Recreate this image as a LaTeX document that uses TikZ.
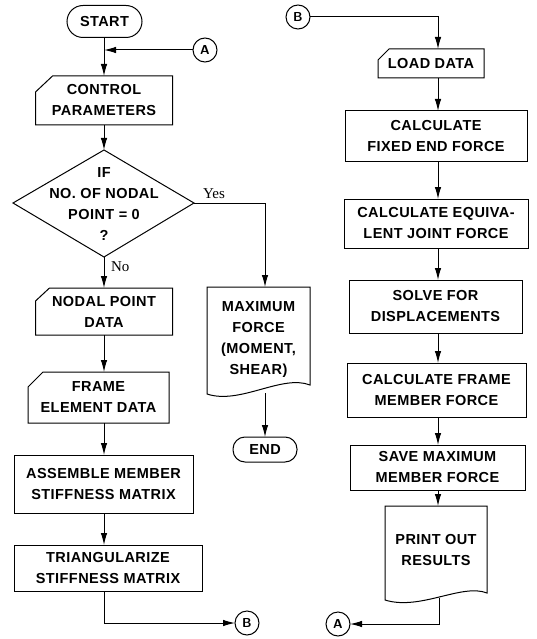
\documentclass[tikz,border=0pt]{standalone}
\usepackage{fontspec}
\setmainfont{Liberation Sans}
\newfontfamily\labfont[LetterSpace=3,BoldFont={Liberation Sans Bold}]{Liberation Sans}
\newfontfamily\serifl{Liberation Serif}
\usetikzlibrary{arrows.meta,calc}
\begin{document}
\begin{tikzpicture}[x=1pt,y=-1pt,
  every node/.style={font=\labfont\bfseries\fontsize{14.5}{21}\selectfont, align=center, inner sep=0pt, outer sep=0pt},
  ln/.style={line width=1pt},
  arr/.style={ln, -{Latex[length=12pt,width=6.5pt]}},
  procbox/.style={draw, line width=1pt, rectangle},
  plain/.style={rectangle},
  term/.style={draw, line width=1pt, rectangle, rounded corners=#1},
  conn/.style={draw, line width=1pt, circle, minimum size=24pt, font=\sffamily\fontsize{13}{13}\selectfont\bfseries},
  yn/.style={font=\serifl\fontsize{15}{15}\selectfont}
]
\useasboundingbox (0,0) rectangle (536,639);
\coordinate (colL) at (104,0);
\coordinate (colR) at (438,0);

% ---------- left column ----------
\node[term=16pt, minimum width=75pt, minimum height=32pt] (start) at (104.5,21.5) {START};
\node[conn] (a1) at (205,50) {A};
\node[plain, minimum width=137pt, minimum height=49pt] (ctrl) at (104,100.5) {CONTROL\\PARAMETERS};
\draw[ln] ([yshift=-16pt]ctrl.north west) -- ([xshift=17pt]ctrl.north west) -- (ctrl.north east) -- (ctrl.south east) -- (ctrl.south west) -- cycle;

\node (dec) at (104,204) {IF\\NO. OF NODAL\\POINT = 0\\?};
\coordinate (dtop) at (104,150);
\coordinate (dright) at (194,203);
\coordinate (dbot) at (104,257);
\coordinate (dleft) at (13,203);
\draw[ln] (dtop) -- (dright) -- (dbot) -- (dleft) -- cycle;

\node[plain, minimum width=137pt, minimum height=47pt] (nodal) at (104,311.5) {NODAL POINT\\DATA};
\draw[ln] ([yshift=-13pt]nodal.north west) -- ([xshift=14pt]nodal.north west) -- (nodal.north east) -- (nodal.south east) -- (nodal.south west) -- cycle;

\node[plain, minimum width=141pt, minimum height=51pt] (frame) at (98.5,397.5) {FRAME\\ELEMENT DATA};
\draw[ln] ([yshift=-15pt]frame.north west) -- ([xshift=15pt]frame.north west) -- (frame.north east) -- (frame.south east) -- (frame.south west) -- cycle;

\node[procbox, minimum width=179pt, minimum height=58pt] (asm) at (103.5,484) {ASSEMBLE MEMBER\\STIFFNESS MATRIX};
\node[procbox, minimum width=188pt, minimum height=46pt] (tri) at (108,568) {TRIANGULARIZE\\STIFFNESS MATRIX};
\node[conn] (b1) at (247,623) {B};

% ---------- middle ----------
\node[plain, minimum width=103pt, minimum height=106pt] (maxf) at (258.5,340) {MAXIMUM\\FORCE\\(MOMENT,\\SHEAR)};
\draw[ln] (207,287) -- (310,287) -- (310,385) .. controls (282,374) and (240,405) .. (207,394) -- cycle;
\coordinate (maxin) at (265,287);
\coordinate (maxout) at (265,393);
\node[term=12pt, minimum width=64pt, minimum height=25pt] (endn) at (265,449.5) {END};

% ---------- right column ----------
\node[conn] (b2) at (298,17) {B};
\node[plain, minimum width=106pt, minimum height=29pt] (load) at (431,63.5) {LOAD DATA};
\draw[ln] ([yshift=-11pt]load.north west) -- ([xshift=11pt]load.north west) -- (load.north east) -- (load.south east) -- (load.south west) -- cycle;
\node[procbox, minimum width=182pt, minimum height=51pt] (fixed) at (436,136.5) {CALCULATE\\FIXED END FORCE};
\node[procbox, minimum width=184pt, minimum height=49pt] (equiv) at (436,223.5) {CALCULATE EQUIVA-\\LENT JOINT FORCE};
\node[procbox, minimum width=173pt, minimum height=53pt] (solve) at (435.5,306.5) {SOLVE FOR\\DISPLACEMENTS};
\node[procbox, minimum width=179pt, minimum height=54pt] (fmem) at (436.5,390) {CALCULATE FRAME\\MEMBER FORCE};
\node[procbox, minimum width=175pt, minimum height=45pt] (save) at (437.5,467.5) {SAVE MAXIMUM\\MEMBER FORCE};
\node[plain, minimum width=102pt, minimum height=88pt] (print) at (436,550) {PRINT OUT\\RESULTS};
\draw[ln] (385,506) -- (487,506) -- (487,593) .. controls (462,583) and (420,611) .. (385,600) -- cycle;
\coordinate (printout) at (439,598);
\node[conn] (a2) at (338,624) {A};

% ---------- connectors ----------
\draw[arr] (start.south -| colL) -- (ctrl.north -| colL);
\draw[arr] (a1) -- (a1 -| colL);
\draw[arr] (ctrl.south -| colL) -- (dtop);
\draw[arr] (dbot) -- (nodal.north -| colL);
\node[yn, anchor=west] (nolab) at (111,267) {No};
\draw[arr] (nodal.south -| colL) -- (frame.north -| colL);
\draw[arr] (frame.south -| colL) -- (asm.north -| colL);
\draw[arr] (asm.south -| colL) -- (tri.north -| colL);
\draw[arr] (tri.south -| colL) -- (b1 -| colL) -- (b1);

\draw[arr] (dright) -- (dright -| maxin) -- (maxin);
\node[yn, anchor=south] (yeslab) at (214,199) {Yes};
\draw[arr] (maxout) -- (endn);

\draw[arr] (b2) -- (b2 -| colR) -- (load.north -| colR);
\draw[arr] (load.south -| colR) -- (fixed.north -| colR);
\draw[arr] (fixed.south -| colR) -- (equiv.north -| colR);
\draw[arr] (equiv.south -| colR) -- (solve.north -| colR);
\draw[arr] (solve.south -| colR) -- (fmem.north -| colR);
\draw[arr] (fmem.south -| colR) -- (save.north -| colR);
\draw[arr] (save.south -| colR) -- (print.north -| colR);
\draw[arr] (printout) -- (printout |- a2) -- (a2);
\end{tikzpicture}
\end{document}
